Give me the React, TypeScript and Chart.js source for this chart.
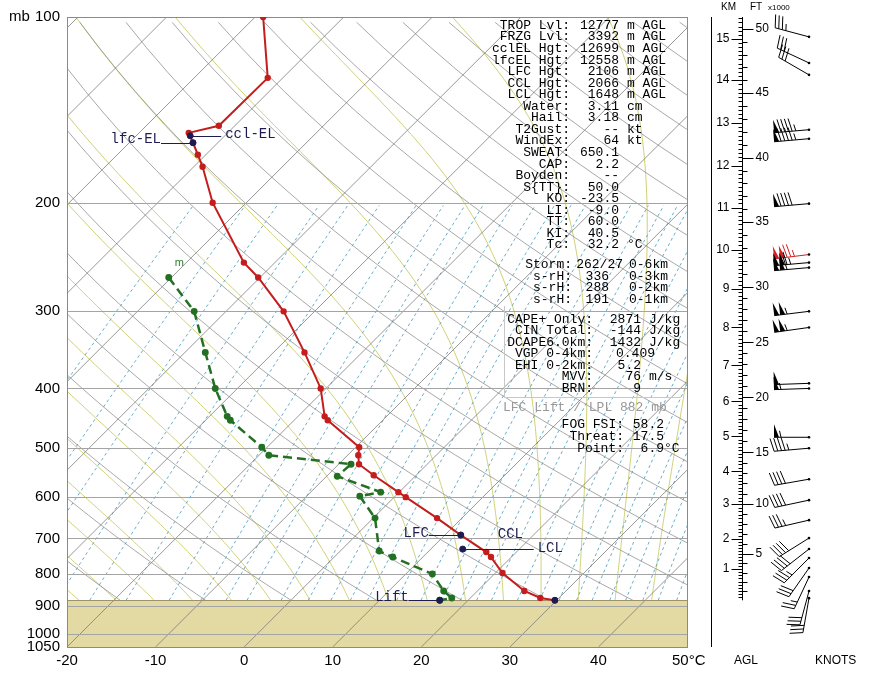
import React, { useEffect, useRef } from 'react';
import { Chart, registerables } from 'chart.js';
Chart.register(...registerables);

// ---------- data ----------
const SKEW = 30.3; // deg C per ln(p) unit
const P_TOP = 100;
const P_BOT = 1050;
const P_SFC = 882;
const T_MIN = -20;
const T_MAX = 50;

const TEMP_P = [100, 125.5, 150.1, 154.1, 159.9, 167.2, 174.9, 200, 250.1, 264.4, 300, 349.7, 400, 443.9, 450.5, 498.2, 513.3, 530.8, 553, 589.1, 600.2, 649, 691.4, 736.7, 750.6, 796.7, 852, 874.5, 882];
const TEMP_C = [-69.1, -61.7, -61.8, -64.4, -62.8, -60.9, -59.0, -53.8, -43.5, -40.2, -33.5, -26.5, -20.6, -17.0, -16.2, -9.6, -8.8, -7.7, -4.8, -0.1, 1.3, 7.2, 11.8, 16.6, 17.7, 20.8, 25.3, 27.9, 29.8];

const DEW_P = [264.4, 300, 349.7, 400, 443.9, 450.5, 498.2, 513.3, 530.8, 555.1, 589.1, 598, 649, 734, 750.6, 799.7, 852, 874.5, 882];
const DEW_C = [-50.3, -43.6, -37.7, -32.5, -28.0, -27.2, -20.6, -18.9, -8.6, -8.8, -2.1, -4.0, 0.2, 4.4, 6.6, 13.0, 16.2, 17.9, 16.8];

const MARK_NAMES = ['ccl-EL', 'lfc-EL', 'LFC', 'LCL', 'SFC', 'Lift'];
const MARK_P = [155.8, 159.9, 691.4, 728.5, 882, 882];
const MARK_C = [-63.9, -62.8, 11.8, 13.6, 29.8, 16.8];

const WIND_P = [107.7, 118.7, 124.1, 152.3, 157.5, 200.7, 242.7, 250.1, 254.8, 300, 318.6, 392.5, 400, 480, 500, 561.3, 607, 654, 699.3, 728.5, 753.4, 782, 808.7, 852, 875];
const WIND_DIR = [285, 295, 300, 265, 265, 265, 263, 265, 265, 263, 262, 268, 268, 270, 265, 260, 258, 257, 238, 232, 225, 215, 205, 195, 190];
const WIND_KT = [35, 30, 30, 95, 95, 90, 125, 115, 110, 105, 105, 50, 55, 55, 45, 40, 40, 35, 40, 40, 35, 30, 25, 30, 30];
const WIND_MAX_INDEX = 6;

const KM_LABELS = ['1', '2', '3', '4', '5', '6', '7', '8', '9', '10', '11', '12', '13', '14', '15'];
const KM_P = [785, 702, 616.1, 544.8, 478.2, 419.7, 367, 318.6, 275.5, 238.2, 203.7, 174.2, 148.4, 126.5, 108.5];
const FT_LABELS = ['5', '10', '15', '20', '25', '30', '35', '40', '45', '50'];
const FT_P = [742.2, 616.1, 507.5, 413.5, 336.9, 273.5, 214.6, 169.1, 132.7, 104.6];

const P_TICKS = [200, 300, 400, 500, 600, 700, 800, 900, 1000, 1050];
const T_TICKS = [-20, -10, 0, 10, 20, 30, 40, 50];

const STAT_LABELS = ['TROP Lvl:', 'FRZG Lvl:', 'cclEL Hgt:', 'lfcEL Hgt:', 'LFC Hgt:', 'CCL Hgt:', 'LCL Hgt:', 'Water:', 'Hail:', 'T2Gust:', 'WindEx:', 'SWEAT:', 'CAP:', 'Boyden:', 'S{TT}:', 'KO:', 'LI:', 'TT:', 'KI:', 'Tc:'];
const STAT_VALUES = ['12777', '3392', '12699', '12558', '2106', '2066', '1648', '3.11', '3.18', '--', '64', '650.1', '2.2', '--', '50.0', '-23.5', '-9.0', '60.0', '40.5', '32.2'];
const STAT_UNITS = ['m AGL', 'm AGL', 'm AGL', 'm AGL', 'm AGL', 'm AGL', 'm AGL', 'cm', 'cm', 'kt', 'kt', '', '', '', '', '', '', '', '', '°C'];

const SHEAR_LABELS = ['Storm:', 's-rH:', 's-rH:', 's-rH:'];
const SHEAR_VALUES = ['262/27', '336', '288', '191'];
const SHEAR_UNITS = ['0-6km', '0-3km', '0-2km', '0-1km'];

const CAPE_LABELS = ['CAPE+ Only:', 'CIN Total:', 'DCAPE6.0km:', 'VGP 0-4km:', 'EHI 0-2km:', 'MVV:', 'BRN:'];
const CAPE_VALUES = ['2871', '-144', '1432', '0.409', '5.2', '76', '9'];
const CAPE_UNITS = ['J/kg', 'J/kg', 'J/kg', '', '', 'm/s', ''];

const FOG_LABELS = ['FOG FSI:', 'Threat:', 'Point:'];
const FOG_VALUES = ['58.2', '17.5', '6.9'];
const FOG_UNITS = ['', '', '°C'];

const MIX_RATIOS = [0.1, 0.2, 0.3, 0.5, 0.7, 1, 1.5, 2, 2.5, 3, 4, 5, 6, 7, 8, 10, 12, 14, 16, 18, 20, 24, 28, 32, 36, 40, 45, 50, 56, 62, 70];

// ---------- helpers ----------
const skewX = (T: number, p: number) => T + SKEW * Math.log(P_BOT / p);
const esat = (Tc: number) => 6.112 * Math.exp((17.67 * Tc) / (Tc + 243.5));

function moistLapse(TK: number, p: number) {
  const Rd = 287.04, Cp = 1005.7, Lv = 2.501e6, eps = 0.622;
  const es = esat(TK - 273.15);
  const rs = (eps * es) / (p - es);
  const num = Rd * TK + Lv * rs;
  const den = Cp + (Lv * Lv * rs * eps) / (Rd * TK * TK);
  return num / den / p; // K per hPa
}

function moistPath(thetaW: number) {
  const pts: [number, number][] = [];
  let T = thetaW + 273.15;
  let p = 1000;
  pts.push([p, T - 273.15]);
  const dp = -5;
  while (p > P_TOP) {
    const k1 = moistLapse(T, p);
    const k2 = moistLapse(T + k1 * dp, p + dp);
    T += 0.5 * (k1 + k2) * dp;
    p += dp;
    pts.push([p, T - 273.15]);
  }
  return pts;
}

const NAVY = '#1c1c52';
const MONO = '"Liberation Mono", "DejaVu Sans Mono", monospace';
const SANS = '"Liberation Sans", Arial, sans-serif';

function drawBarb(ctx: CanvasRenderingContext2D, x: number, y: number, dir: number, kt: number, color: string) {
  const len = 35;
  const rad = (dir * Math.PI) / 180;
  const dx = Math.sin(rad);
  const dy = -Math.cos(rad);
  const nx = -dy;
  const ny = dx;
  const ex = x + dx * len;
  const ey = y + dy * len;
  ctx.strokeStyle = color;
  ctx.fillStyle = color;
  ctx.lineWidth = 1;
  ctx.beginPath();
  ctx.moveTo(x, y);
  ctx.lineTo(ex, ey);
  ctx.stroke();
  let rem = Math.round(kt / 5) * 5;
  let s = 0;
  const bl = 13;
  while (rem >= 50) {
    const bx = ex - dx * s, by = ey - dy * s;
    const cx = ex - dx * (s + 5), cy = ey - dy * (s + 5);
    ctx.beginPath();
    ctx.moveTo(bx, by);
    ctx.lineTo(bx + nx * bl, by + ny * bl);
    ctx.lineTo(cx, cy);
    ctx.closePath();
    ctx.fill();
    s += 6;
    rem -= 50;
  }
  if (s > 0) s += 1;
  while (rem >= 10) {
    const bx = ex - dx * s, by = ey - dy * s;
    ctx.beginPath();
    ctx.moveTo(bx, by);
    ctx.lineTo(bx + nx * bl + dx * 3, by + ny * bl + dy * 3);
    ctx.stroke();
    s += 3.7;
    rem -= 10;
  }
  if (rem >= 5) {
    if (s === 0) s = 3.7;
    const bx = ex - dx * s, by = ey - dy * s;
    ctx.beginPath();
    ctx.moveTo(bx, by);
    ctx.lineTo(bx + nx * bl * 0.5 + dx * 1.5, by + ny * bl * 0.5 + dy * 1.5);
    ctx.stroke();
  }
  ctx.fillStyle = '#000';
  ctx.beginPath();
  ctx.arc(x, y, 1.3, 0, Math.PI * 2);
  ctx.fill();
}

const bgPlugin = {
  id: 'skewtBackground',
  beforeDatasetsDraw(chart: any) {
    const { ctx, chartArea: a, scales } = chart;
    const xs = scales.x, ys = scales.y;
    const px = (T: number, p: number) => xs.getPixelForValue(skewX(T, p));
    const py = (p: number) => ys.getPixelForValue(p);
    ctx.save();
    ctx.beginPath();
    ctx.rect(a.left, a.top, a.right - a.left, a.bottom - a.top);
    ctx.clip();
    const ySfc = py(P_SFC);
    // ground
    ctx.fillStyle = '#e3d9a3';
    ctx.fillRect(a.left, ySfc, a.right - a.left, a.bottom - ySfc);

    // above ground lines
    ctx.save();
    ctx.beginPath();
    ctx.rect(a.left, a.top, a.right - a.left, ySfc - a.top);
    ctx.clip();
    // moist adiabats
    ctx.strokeStyle = 'rgba(205,205,110,0.95)';
    ctx.lineWidth = 1;
    for (let tw = -40; tw <= 44; tw += 4) {
      const pts = moistPath(tw);
      ctx.beginPath();
      pts.forEach(([p, T], i) => {
        const X = px(T, p), Y = py(p);
        if (i === 0) ctx.moveTo(X, Y); else ctx.lineTo(X, Y);
      });
      ctx.stroke();
    }
    // dry adiabats
    ctx.strokeStyle = 'rgba(140,140,140,0.85)';
    ctx.lineWidth = 0.9;
    for (let th = -40; th <= 240; th += 10) {
      ctx.beginPath();
      for (let p = P_SFC; p >= P_TOP - 1; p -= 10) {
        const T = (th + 273.15) * Math.pow(p / 1000, 0.2857) - 273.15;
        const X = px(T, p), Y = py(p);
        if (p === P_SFC) ctx.moveTo(X, Y); else ctx.lineTo(X, Y);
      }
      ctx.stroke();
    }
    // mixing ratio lines
    ctx.strokeStyle = 'rgba(80,160,190,0.95)';
    ctx.lineWidth = 0.9;
    ctx.setLineDash([3, 3]);
    for (const w of MIX_RATIOS) {
      ctx.beginPath();
      let first = true;
      for (let p = P_SFC; p >= 200; p -= 20) {
        const e = (w * p) / (622 + w);
        const l = Math.log(e / 6.112);
        const Td = (243.5 * l) / (17.67 - l);
        const X = px(Td, p), Y = py(p);
        if (first) { ctx.moveTo(X, Y); first = false; } else ctx.lineTo(X, Y);
      }
      ctx.stroke();
    }
    ctx.setLineDash([]);
    ctx.restore();

    // isotherms
    ctx.strokeStyle = 'rgba(120,120,120,0.85)';
    ctx.lineWidth = 0.9;
    for (let T = -140; T <= T_MAX; T += 10) {
      ctx.beginPath();
      ctx.moveTo(px(T, P_BOT), py(P_BOT));
      ctx.lineTo(px(T, P_TOP), py(P_TOP));
      ctx.stroke();
    }
    // isobars
    ctx.strokeStyle = '#a4a4a4';
    ctx.lineWidth = 1;
    for (const p of P_TICKS) {
      if (p === P_BOT) continue;
      const Y = Math.round(py(p)) + 0.5;
      ctx.beginPath();
      ctx.moveTo(a.left, Y);
      ctx.lineTo(a.right, Y);
      ctx.stroke();
    }
    // ground top line
    ctx.strokeStyle = '#9c9270';
    ctx.beginPath();
    ctx.moveTo(a.left, Math.round(ySfc) + 0.5);
    ctx.lineTo(a.right, Math.round(ySfc) + 0.5);
    ctx.stroke();
    ctx.restore();

    // frame
    ctx.save();
    ctx.strokeStyle = '#8a8a8a';
    ctx.lineWidth = 1;
    ctx.strokeRect(Math.round(a.left) + 0.5, Math.round(a.top) + 0.5, Math.round(a.right - a.left), Math.round(a.bottom - a.top));
    ctx.restore();
  },
};

const fgPlugin = {
  id: 'skewtForeground',
  afterDraw(chart: any) {
    const { ctx, chartArea: a, scales } = chart;
    const xs = scales.x, ys = scales.y;
    const px = (T: number, p: number) => xs.getPixelForValue(skewX(T, p));
    const py = (p: number) => ys.getPixelForValue(p);
    ctx.save();

    // axis labels
    ctx.fillStyle = '#000';
    ctx.font = `15px ${SANS}`;
    ctx.textBaseline = 'middle';
    ctx.textAlign = 'right';
    for (const p of P_TICKS) ctx.fillText(String(p), a.left - 7, py(p));
    ctx.fillText(String(P_TOP), a.left - 7, py(P_TOP));
    ctx.textAlign = 'left';
    ctx.fillText('mb', 9, py(P_TOP));
    ctx.textAlign = 'center';
    for (const t of T_TICKS) {
      const X = xs.getPixelForValue(t);
      if (t === T_MAX) {
        ctx.textAlign = 'left';
        ctx.fillText(`${t}°C`, X - 15, a.bottom + 14);
        ctx.textAlign = 'center';
      } else ctx.fillText(String(t), X, a.bottom + 14);
    }

    // marker labels
    ctx.font = `14px ${MONO}`;
    ctx.fillStyle = NAVY;
    ctx.strokeStyle = NAVY;
    ctx.lineWidth = 1;
    const lab = (i: number, side: 'l' | 'r', lineLen: number, dy: number, text: string) => {
      const X = px(MARK_C[i], MARK_P[i]);
      const Y = py(MARK_P[i]);
      ctx.beginPath();
      const y0 = Math.round(Y) + 0.5;
      if (side === 'l') { ctx.moveTo(X, y0); ctx.lineTo(X - lineLen, y0); }
      else { ctx.moveTo(X, y0); ctx.lineTo(X + lineLen, y0); }
      ctx.stroke();
      ctx.textAlign = side === 'l' ? 'right' : 'left';
      ctx.fillText(text, side === 'l' ? X - lineLen : X + lineLen + 4, Y + dy);
    };
    lab(0, 'r', 31, -2, MARK_NAMES[0]);
    lab(1, 'l', 32, -3, MARK_NAMES[1]);
    lab(2, 'l', 32, -2, MARK_NAMES[2]);
    lab(3, 'r', 71, -1, MARK_NAMES[3]);
    lab(5, 'l', 31, -3, MARK_NAMES[5]);
    ctx.textAlign = 'left';
    ctx.fillText('CCL', px(MARK_C[2], MARK_P[2]) + 37, py(MARK_P[2]) - 1);

    // 'm' label by top of dewpoint
    ctx.fillStyle = '#2e7d2e';
    ctx.font = `11px ${SANS}`;
    ctx.textAlign = 'left';
    ctx.fillText('m', px(DEW_C[0], DEW_P[0]) + 6, py(DEW_P[0]) - 15);

    // stats text
    ctx.fillStyle = '#000';
    ctx.font = `13px ${MONO}`;
    const row = (label: string, value: string, unit: string, xc: number, xv: number, xu: number, y: number) => {
      ctx.textAlign = 'right';
      ctx.fillText(label, xc, y);
      ctx.fillText(value, xv, y);
      ctx.textAlign = 'left';
      if (unit) ctx.fillText(unit, xu, y);
    };
    STAT_LABELS.forEach((l, i) => row(l, STAT_VALUES[i], STAT_UNITS[i], 570, 619, 627, 25.5 + i * 11.55));
    SHEAR_LABELS.forEach((l, i) => row(l, SHEAR_VALUES[i], SHEAR_UNITS[i], 572, i === 0 ? 623 : 609, 629, 265 + i * 11.4));
    CAPE_LABELS.forEach((l, i) => row(l, CAPE_VALUES[i], CAPE_UNITS[i], 593, i === 3 ? 655 : 641, 649, 319.5 + i * 11.45));
    ctx.fillStyle = '#999';
    ctx.textAlign = 'left';
    ctx.fillText('LFC Lift / LPL 882 mb', 503, 408);
    ctx.fillStyle = '#000';
    FOG_LABELS.forEach((l, i) => {
      row(l, FOG_VALUES[i], '', 624, 664, 664, 425 + i * 12);
      if (FOG_UNITS[i]) { ctx.textAlign = 'left'; ctx.fillText(FOG_UNITS[i], 664, 425 + i * 12); }
    });
    // faint box around CAPE block
    ctx.strokeStyle = '#c8c8c8';
    ctx.beginPath();
    ctx.moveTo(504.5, 306);
    ctx.lineTo(504.5, 397.5);
    ctx.lineTo(681, 397.5);
    ctx.stroke();

    // height scale
    const axX = 742.5;
    const ySfc = py(P_SFC);
    ctx.strokeStyle = '#000';
    ctx.lineWidth = 1;
    ctx.beginPath();
    ctx.moveTo(711.5, a.top);
    ctx.lineTo(711.5, a.bottom);
    ctx.moveTo(axX, a.top);
    ctx.lineTo(axX, ySfc);
    ctx.stroke();
    const kmY = [ySfc, ...KM_P.map(py)];
    ctx.beginPath();
    for (let i = 0; i < kmY.length; i++) {
      const y0 = kmY[i];
      const y1 = i + 1 < kmY.length ? kmY[i + 1] : kmY[i] - (kmY[i - 1] - kmY[i]);
      for (let k = 1; k < 10; k++) {
        const yy = Math.round(y0 + ((y1 - y0) * k) / 10) + 0.5;
        if (yy < a.top) continue;
        ctx.moveTo(axX - 4, yy);
        ctx.lineTo(axX, yy);
      }
      if (i > 0) {
        const yy = Math.round(y0) + 0.5;
        ctx.moveTo(axX - 11, yy);
        ctx.lineTo(axX, yy);
      }
    }
    const ftY = [ySfc, ...FT_P.map(py)];
    for (let i = 0; i < ftY.length; i++) {
      const y0 = ftY[i];
      const y1 = i + 1 < ftY.length ? ftY[i + 1] : ftY[i] - (ftY[i - 1] - ftY[i]);
      for (let k = 1; k < 5; k++) {
        const yy = Math.round(y0 + ((y1 - y0) * k) / 5) + 0.5;
        if (yy < a.top) continue;
        ctx.moveTo(axX, yy);
        ctx.lineTo(axX + 5, yy);
      }
      if (i > 0) {
        const yy = Math.round(y0) + 0.5;
        ctx.moveTo(axX, yy);
        ctx.lineTo(axX + 11, yy);
      }
    }
    ctx.stroke();
    ctx.font = `12px ${SANS}`;
    ctx.fillStyle = '#000';
    ctx.textAlign = 'right';
    KM_LABELS.forEach((l, i) => ctx.fillText(l, axX - 13, py(KM_P[i])));
    ctx.textAlign = 'left';
    FT_LABELS.forEach((l, i) => ctx.fillText(l, axX + 13, py(FT_P[i])));
    ctx.font = `10px ${SANS}`;
    ctx.fillText('KM', 721, 7);
    ctx.fillText('FT', 750, 7);
    ctx.font = `8px ${SANS}`;
    ctx.fillText('x1000', 768, 8);
    ctx.font = `12px ${SANS}`;
    ctx.fillText('AGL', 734, 661);
    ctx.fillText('KNOTS', 815, 661);

    // wind barbs
    const stationX = 809;
    WIND_P.forEach((p, i) => {
      drawBarb(ctx, stationX, py(p), WIND_DIR[i], WIND_KT[i], i === WIND_MAX_INDEX ? '#d42020' : '#000');
    });
    ctx.restore();
  },
};

export default function App() {
  const ref = useRef<HTMLCanvasElement | null>(null);
  useEffect(() => {
    if (!ref.current) return;
    const tempData = TEMP_P.map((p, i) => ({ x: skewX(TEMP_C[i], p), y: p }));
    const dewData = DEW_P.map((p, i) => ({ x: skewX(DEW_C[i], p), y: p }));
    const markData = MARK_P.map((p, i) => ({ x: skewX(MARK_C[i], p), y: p }));
    const chart = new Chart(ref.current, {
      type: 'scatter',
      data: {
        datasets: [
          {
            label: 'Markers',
            data: markData,
            showLine: false,
            pointRadius: 3,
            pointBackgroundColor: NAVY,
            pointBorderColor: NAVY,
            order: 0,
          },
          {
            label: 'Dewpoint',
            data: dewData,
            showLine: true,
            borderColor: '#237023',
            borderWidth: 2.5,
            borderDash: [9, 5],
            pointRadius: 2.2,
            pointBackgroundColor: '#237023',
            pointBorderColor: '#237023',
            order: 2,
          },
          {
            label: 'Temperature',
            data: tempData,
            showLine: true,
            borderColor: '#c41d1d',
            borderWidth: 2,
            pointRadius: 2.2,
            pointBackgroundColor: '#c41d1d',
            pointBorderColor: '#c41d1d',
            order: 1,
          },
        ],
      },
      options: {
        responsive: false,
        animation: false,
        layout: { padding: { left: 67, right: 182, top: 17, bottom: 30 } },
        plugins: { legend: { display: false }, tooltip: { enabled: false } },
        scales: {
          x: { type: 'linear', min: T_MIN, max: T_MAX, display: false },
          y: { type: 'logarithmic', min: P_TOP, max: P_BOT, reverse: true, display: false },
        },
      },
      plugins: [bgPlugin, fgPlugin],
    });
    return () => chart.destroy();
  }, []);
  return (
    <div style={{ position: 'absolute', left: 0, top: 0, width: 869, height: 677, background: '#fff' }}>
      <canvas ref={ref} width={869} height={677} style={{ width: 869, height: 677 }} />
    </div>
  );
}
